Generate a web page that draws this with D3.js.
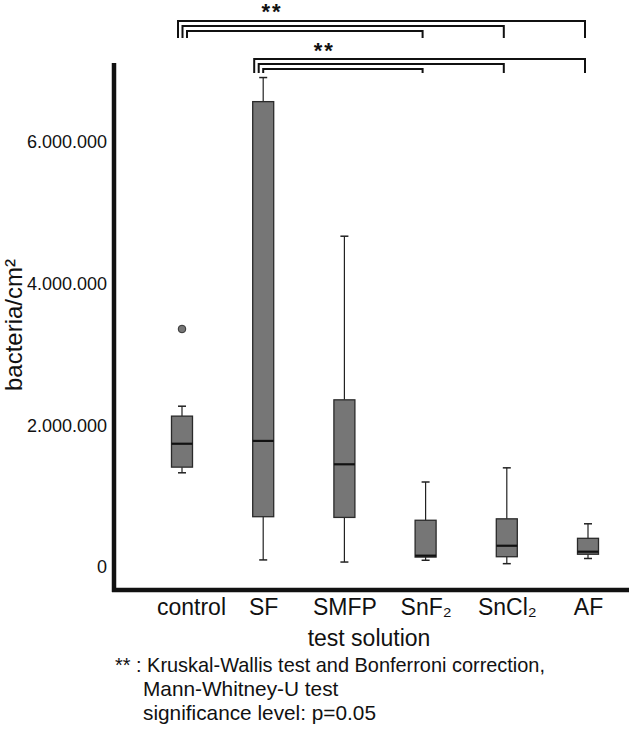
<!DOCTYPE html>
<html>
<head>
<meta charset="utf-8">
<script src="https://cdn.jsdelivr.net/npm/d3@7"></script>
<style>
  html, body { margin: 0; padding: 0; background: #fff; }
  svg { display: block; font-family: "Liberation Sans", Arial, sans-serif; }
</style>
</head>
<body>
<svg id="chart" width="629" height="732"></svg>
<script>
// ---- data (values in bacteria/cm²) ----
const categories   = ["control", "SF", "SMFP", "SnF\u2082", "SnCl\u2082", "AF"];
const whiskerLow   = [1330000,   100000,  70000,  95000,  47000, 120000];
const q1           = [1410000,   710000, 700000, 140000, 145000, 180000];
const medians      = [1740000,  1780000, 1450000, 160000, 300000, 216000];
const q3           = [2130000,  6570000, 2360000, 660000, 680000, 405000];
const whiskerHigh  = [2270000,  6910000, 4670000, 1200000, 1400000, 610000];
const outlierCat   = ["control"];
const outlierVal   = [3360000];
const yTicks       = [0, 2000000, 4000000, 6000000];
const comparisonFrom = ["control", "control", "control", "SF", "SF", "SF"];
const comparisonTo   = ["SnF\u2082", "SnCl\u2082", "AF", "SnF\u2082", "SnCl\u2082", "AF"];
const yTitle = "bacteria/cm\u00b2";
const xTitle = "test solution";
const footnote = ["** : Kruskal-Wallis test and Bonferroni correction,",
                  "Mann-Whitney-U test",
                  "significance level: p=0.05"];

const svg = d3.select("#chart");

const x = d3.scalePoint().domain(categories).range([182, 588]);
const y = d3.scaleLinear().domain([0, 6000000]).range([567, 142]);

const fmt = v => d3.format(",")(v).replace(/,/g, ".");

// y axis ticks/labels
const yAxis = svg.append("g").attr("transform", "translate(114,0)")
  .call(d3.axisLeft(y).tickValues(yTicks).tickSize(0).tickPadding(7).tickFormat(fmt));
yAxis.select(".domain").remove();
yAxis.selectAll("text").attr("font-size", 18).attr("fill", "#111")
  .attr("font-family", "Liberation Sans, Arial, sans-serif");

// x axis labels
const xAxis = svg.append("g").attr("transform", "translate(0,590)")
  .call(d3.axisBottom(x).tickSize(0).tickPadding(0));
xAxis.select(".domain").remove();
xAxis.selectAll("text")
  .attr("font-size", 23).attr("fill", "#111")
  .attr("font-family", "Liberation Sans, Arial, sans-serif")
  .attr("y", 25).attr("dy", 0)
  .attr("dx", (d, i) => i === 0 ? 9 : 0);

// axis lines (thick)
svg.append("line").attr("x1", 114).attr("x2", 114).attr("y1", 63).attr("y2", 592)
  .attr("stroke", "#111").attr("stroke-width", 4.5);
svg.append("line").attr("x1", 112).attr("x2", 629).attr("y1", 590).attr("y2", 590)
  .attr("stroke", "#111").attr("stroke-width", 4.5);

// boxes
const bw = 21, cap = 8;
const boxes = svg.append("g").selectAll("g").data(categories).join("g");
boxes.each(function(c, i) {
  const g = d3.select(this), cx = x(c);
  g.append("line").attr("x1", cx).attr("x2", cx)
    .attr("y1", y(whiskerHigh[i])).attr("y2", y(q3[i]))
    .attr("stroke", "#222").attr("stroke-width", 1.2);
  g.append("line").attr("x1", cx).attr("x2", cx)
    .attr("y1", y(q1[i])).attr("y2", y(whiskerLow[i]))
    .attr("stroke", "#222").attr("stroke-width", 1.2);
  g.append("line").attr("x1", cx - cap / 2).attr("x2", cx + cap / 2)
    .attr("y1", y(whiskerHigh[i])).attr("y2", y(whiskerHigh[i]))
    .attr("stroke", "#222").attr("stroke-width", 1.5);
  g.append("line").attr("x1", cx - cap / 2).attr("x2", cx + cap / 2)
    .attr("y1", y(whiskerLow[i])).attr("y2", y(whiskerLow[i]))
    .attr("stroke", "#222").attr("stroke-width", 1.5);
  g.append("rect").attr("x", cx - bw / 2).attr("width", bw)
    .attr("y", y(q3[i])).attr("height", y(q1[i]) - y(q3[i]))
    .attr("fill", "#767676").attr("stroke", "#2a2a2a").attr("stroke-width", 1.3);
  g.append("line").attr("x1", cx - bw / 2).attr("x2", cx + bw / 2)
    .attr("y1", y(medians[i])).attr("y2", y(medians[i]))
    .attr("stroke", "#111").attr("stroke-width", 2.2);
});

// outliers
svg.append("g").selectAll("circle").data(outlierVal).join("circle")
  .attr("cx", (d, i) => x(outlierCat[i])).attr("cy", d => y(d)).attr("r", 3.8)
  .attr("fill", "#767676").attr("stroke", "#333").attr("stroke-width", 1);

// significance brackets
const groupTop = { control: [21, 38], SF: [59, 73] };
const groupLeftOff = { control: -4, SF: -9 };
const br = svg.append("g").attr("fill", "none").attr("stroke", "#111").attr("stroke-width", 2);
comparisonFrom.forEach((from, i) => {
  const n = comparisonFrom.filter(f => f === from).length;
  const k = comparisonFrom.slice(0, i + 1).filter(f => f === from).length - 1;
  const level = n - 1 - k; // 0 = outermost (widest) bracket
  const yTop = groupTop[from][0] + level * 5;
  const yBot = groupTop[from][1];
  const xl = x(from) + groupLeftOff[from] + level * 4.5;
  const xr = x(comparisonTo[i]) - 3;
  br.append("path").attr("d", `M${xl},${yBot}V${yTop}H${xr}V${yBot}`);
});
// stars
const starPos = [["control", 90], ["SF", 61]];
svg.append("g").selectAll("text").data(starPos).join("text")
  .attr("x", d => x(d[0]) + d[1]).attr("y", (d, i) => i === 0 ? 19 : 58)
  .attr("text-anchor", "middle").attr("font-size", 22).attr("font-weight", "bold")
  .attr("letter-spacing", 2).attr("fill", "#111").text("**");

// axis titles
svg.append("text").attr("transform", "translate(22,325) rotate(-90)")
  .attr("text-anchor", "middle").attr("font-size", 24)
  .attr("textLength", 132).attr("lengthAdjust", "spacingAndGlyphs")
  .attr("fill", "#111").text(yTitle);
svg.append("text").attr("x", 369).attr("y", 646)
  .attr("text-anchor", "middle").attr("font-size", 23).attr("fill", "#111").text(xTitle);

// footnote
svg.append("g").selectAll("text").data(footnote).join("text")
  .attr("x", (d, i) => i === 0 ? 115 : 143)
  .attr("y", (d, i) => 672 + i * 24)
  .attr("font-size", 20.8)
  .attr("textLength", (d, i) => i === 0 ? 430 : null)
  .attr("lengthAdjust", "spacingAndGlyphs")
  .attr("fill", "#111").text(d => d);
</script>
</body>
</html>
